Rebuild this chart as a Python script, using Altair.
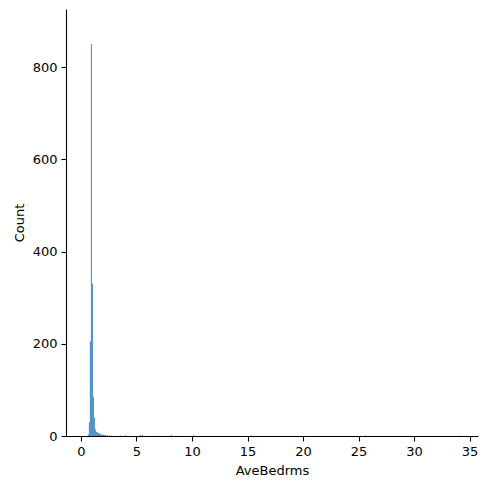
import altair as alt
import pandas as pd

bin_width = 0.09
bin_start = [0.62, 0.71, 0.80, 0.89, 0.98, 1.07, 1.16, 1.25, 1.34, 1.43, 1.52, 1.61, 1.70, 1.79, 1.88, 1.97, 2.06, 2.15, 2.33, 2.51, 2.69,
             3.5, 4.0, 5.3, 5.5, 6.5, 8.1, 10.1, 15.3, 25.6, 34.0]
counts = [3, 30, 205, 850, 330, 85, 40, 14, 9, 8, 6, 6, 4, 3, 3, 2, 2, 2, 2, 1, 1,
          1, 2, 2, 2, 1, 2, 2, 1, 1, 1]

df = pd.DataFrame({"start": bin_start, "count": counts})
df["end"] = df["start"] + bin_width
df["base"] = 0

chart = alt.Chart(df).mark_bar(color="#3a87bf", opacity=1, strokeWidth=0).encode(
    x=alt.X("start:Q", title="AveBedrms",
            scale=alt.Scale(domain=[-1.35, 35.76], nice=False, zero=False),
            axis=alt.Axis(values=[0, 5, 10, 15, 20, 25, 30, 35], format="d")),
    x2="end:Q",
    y=alt.Y("count:Q", title="Count",
            scale=alt.Scale(domain=[0, 926], nice=False),
            axis=alt.Axis(values=[0, 200, 400, 600, 800])),
    y2="base:Q",
).properties(
    width=412, height=427,
    autosize=alt.AutoSizeParams(type="none"),
    padding={"left": 58, "top": 1, "right": 4, "bottom": 45},
).configure_view(stroke=None).configure_axis(
    grid=False, domainColor="black", domainWidth=1.1, tickColor="black", tickWidth=1.1,
    tickSize=5, labelFont="DejaVu Sans", labelFontSize=13, labelColor="black",
    titleFont="DejaVu Sans", titleFontSize=13, titleFontWeight="normal", titleColor="black",
    labelPadding=4, titlePadding=6,
)

chart.save("out.html", embed_options={"renderer": "svg", "actions": False})
